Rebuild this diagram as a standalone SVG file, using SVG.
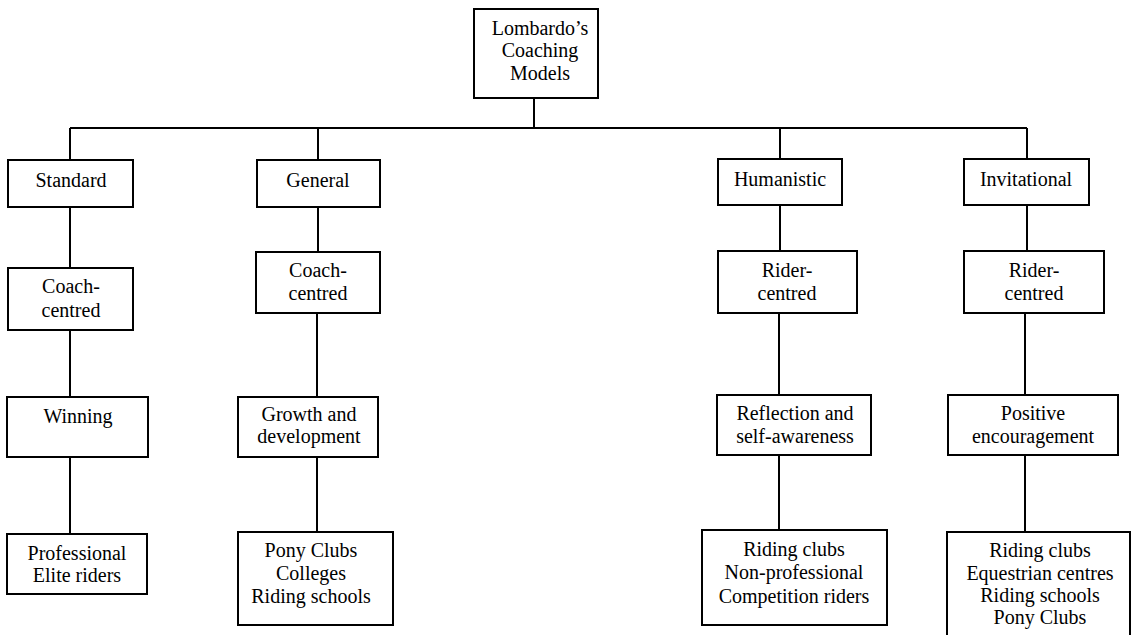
<svg xmlns="http://www.w3.org/2000/svg" width="1132" height="635" viewBox="0 0 1132 635">
  <style>
    .box { fill: #fff; stroke: #000; stroke-width: 2; }
    .link { fill: none; stroke: #000; stroke-width: 2; }
    text { font-family: 'Liberation Serif', Tinos, 'DejaVu Serif', serif; font-size: 20px; fill: #000; text-anchor: middle; }
  </style>
  <rect width="1132" height="635" fill="#fff"/>

  <g id="connectors">
    <path class="link" d="M534 98 V128 M70 128 H1027"/>
    <!-- Standard column -->
    <path class="link" d="M70 128 V160 M70 207 V268 M70 330 V397 M70 457 V534"/>
    <!-- General column -->
    <path class="link" d="M318 128 V160 M318 207 V252 M317 313 V397 M317 457 V532"/>
    <!-- Humanistic column -->
    <path class="link" d="M780 128 V159 M780 205 V251 M779 313 V395 M779 455 V530"/>
    <!-- Invitational column -->
    <path class="link" d="M1027 128 V159 M1027 205 V251 M1025 313 V395 M1025 455 V531"/>
  </g>

  <g id="root">
    <rect class="box" x="474" y="9" width="124" height="89"/>
    <text x="540" y="35">Lombardo’s</text>
    <text x="540" y="57">Coaching</text>
    <text x="540" y="80">Models</text>
  </g>

  <!-- Standard -->
  <g id="standard">
    <rect class="box" x="8" y="160" width="125" height="47"/>
    <text x="71" y="187">Standard</text>
  </g>
  <g id="standard-focus">
    <rect class="box" x="8" y="268" width="125" height="62"/>
    <text x="71" y="293">Coach-</text>
    <text x="71" y="317">centred</text>
  </g>
  <g id="standard-aim">
    <rect class="box" x="7" y="397" width="141" height="60"/>
    <text x="78" y="423">Winning</text>
  </g>
  <g id="standard-riders">
    <rect class="box" x="7" y="534" width="140" height="60"/>
    <text x="77" y="560">Professional</text>
    <text x="77" y="582">Elite riders</text>
  </g>

  <!-- General -->
  <g id="general">
    <rect class="box" x="257" y="160" width="123" height="47"/>
    <text x="318" y="187">General</text>
  </g>
  <g id="general-focus">
    <rect class="box" x="256" y="252" width="124" height="61"/>
    <text x="318" y="277">Coach-</text>
    <text x="318" y="300">centred</text>
  </g>
  <g id="general-aim">
    <rect class="box" x="238" y="397" width="140" height="60"/>
    <text x="309" y="421">Growth and</text>
    <text x="309" y="443">development</text>
  </g>
  <g id="general-riders">
    <rect class="box" x="238" y="532" width="155" height="93"/>
    <text x="311" y="557">Pony Clubs</text>
    <text x="311" y="580">Colleges</text>
    <text x="311" y="603">Riding schools</text>
  </g>

  <!-- Humanistic -->
  <g id="humanistic">
    <rect class="box" x="718" y="159" width="124" height="46"/>
    <text x="780" y="186">Humanistic</text>
  </g>
  <g id="humanistic-focus">
    <rect class="box" x="718" y="251" width="139" height="62"/>
    <text x="787" y="277">Rider-</text>
    <text x="787" y="300">centred</text>
  </g>
  <g id="humanistic-aim">
    <rect class="box" x="717" y="395" width="154" height="60"/>
    <text x="795" y="420">Reflection and</text>
    <text x="795" y="443">self-awareness</text>
  </g>
  <g id="humanistic-riders">
    <rect class="box" x="702" y="530" width="185" height="95"/>
    <text x="794" y="556">Riding clubs</text>
    <text x="794" y="579">Non-professional</text>
    <text x="794" y="603">Competition riders</text>
  </g>

  <!-- Invitational -->
  <g id="invitational">
    <rect class="box" x="964" y="159" width="125" height="46"/>
    <text x="1026" y="186">Invitational</text>
  </g>
  <g id="invitational-focus">
    <rect class="box" x="964" y="251" width="140" height="62"/>
    <text x="1034" y="277">Rider-</text>
    <text x="1034" y="300">centred</text>
  </g>
  <g id="invitational-aim">
    <rect class="box" x="948" y="395" width="170" height="60"/>
    <text x="1033" y="420">Positive</text>
    <text x="1033" y="443">encouragement</text>
  </g>
  <g id="invitational-riders">
    <rect class="box" x="947" y="532" width="183" height="110"/>
    <text x="1040" y="557">Riding clubs</text>
    <text x="1040" y="580">Equestrian centres</text>
    <text x="1040" y="602">Riding schools</text>
    <text x="1040" y="624">Pony Clubs</text>
  </g>
</svg>
